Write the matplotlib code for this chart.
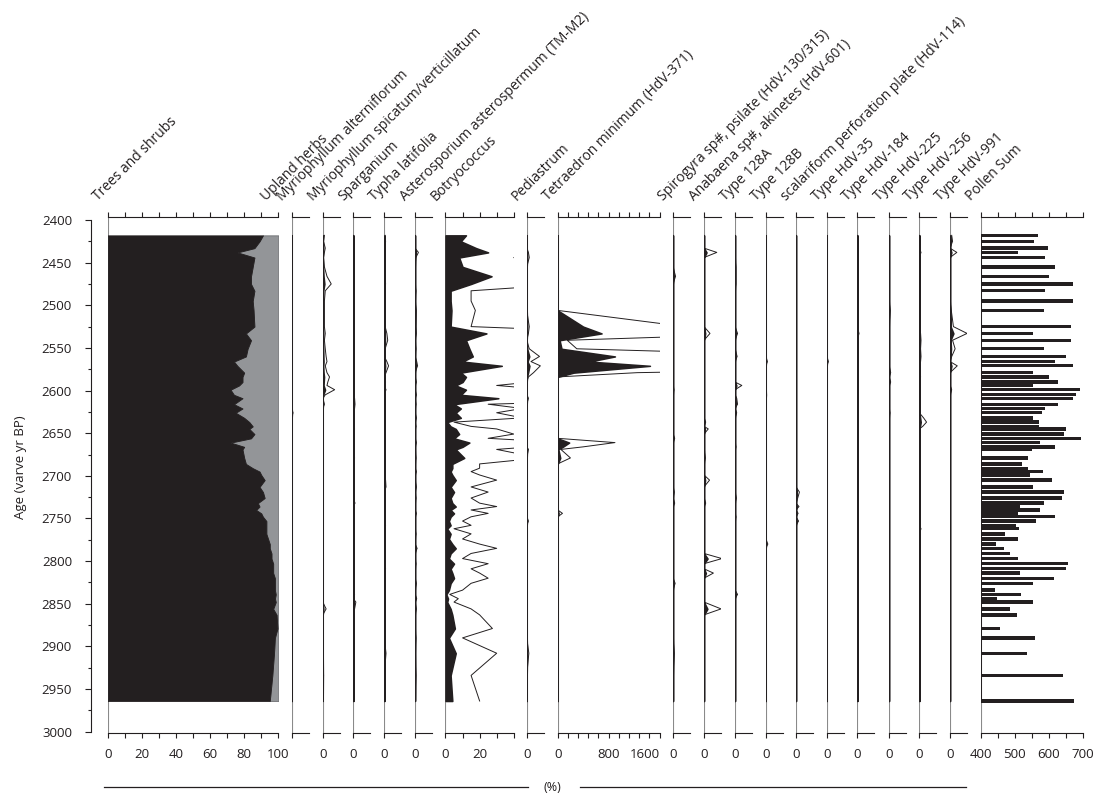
import numpy as np
import matplotlib
matplotlib.use("Agg")
import matplotlib.pyplot as plt
from matplotlib.lines import Line2D

plt.rcParams["font.family"] = ["Open Sans", "DejaVu Sans"]

# ── DATA ─────────────────────────────────────────────────────────────────────
# sample ages (varve yr BP)
ages = [2418, 2425, 2433, 2438, 2444, 2455, 2466, 2475, 2483, 2495,
        2506, 2525, 2533, 2541, 2551, 2560, 2566, 2571, 2579, 2584,
        2590, 2594, 2599, 2605, 2609, 2616, 2621, 2626, 2632, 2637,
        2642, 2645, 2651, 2656, 2661, 2666, 2669, 2679, 2686, 2691,
        2695, 2699, 2705, 2713, 2719, 2726, 2732, 2736, 2740, 2744,
        2748, 2753, 2758, 2762, 2768, 2774, 2780, 2785, 2791, 2797,
        2803, 2809, 2814, 2820, 2826, 2834, 2839, 2844, 2848, 2856,
        2863, 2879, 2890, 2908, 2934, 2964]

trees = [91, 89, 86, 76, 86, 85, 84, 84, 86, 85,
         85.5, 86, 81, 84, 82, 81, 74, 76, 80, 79,
         79, 77, 72, 74, 79, 74, 79, 75, 80, 83,
         85, 83, 86, 84, 72, 80, 79, 80, 81, 85,
         89, 90, 92, 89, 91, 92, 88, 89, 87, 90,
         91, 93, 93, 93, 93, 94, 95, 95, 96, 96,
         97, 97, 97, 98, 98, 98, 98.5, 98, 98.5, 97,
         99, 99.5, 98, 97.5, 96.5, 95]

botryococcus = [12, 9, 18, 25, 8, 10, 27, 15, 3, 3,
                3.5, 3, 24, 12, 14, 16, 10, 33, 9, 12,
                10, 6, 12, 9, 31, 5, 9, 6, 9, 1,
                3, 6, 8, 5, 14, 10, 6, 11, 4, 4,
                3, 4, 6, 3, 5, 3, 4, 6, 3, 5,
                3, 2, 3, 1, 3, 2, 4, 6, 3, 2,
                5, 3, 4, 5, 3, 2, 0.5, 1.5, 1, 3,
                4, 5.5, 2, 6, 3, 4]

pollen_sum = [568, 555, 598, 508, 590, 619, 600, 670, 590, 670,
              585, 666, 552, 665, 585, 650, 618, 672, 553, 600,
              627, 553, 692, 679, 670, 627, 590, 580, 553, 570,
              570, 652, 645, 695, 574, 618, 550, 539, 522, 538,
              582, 545, 610, 553, 645, 640, 587, 515, 574, 509,
              618, 563, 504, 511, 472, 508, 445, 467, 486, 510,
              656, 651, 515, 614, 552, 442, 519, 446, 552, 487,
              505, 457, 560, 536, 643, 675]

# sparse taxa: age -> % (zero at all other samples)
myrio_alt = {2626: 0.15}
myrio_spic = {2418: 0.2, 2425: 0.1, 2433: 0.3, 2438: 0.2, 2444: 0.1, 2455: 0.2,
              2466: 0.5, 2475: 1.0, 2483: 0.3, 2495: 0.2, 2506: 0.2, 2525: 0.2,
              2533: 0.3, 2541: 0.2, 2551: 0.3, 2560: 0.4, 2566: 0.5, 2571: 0.3,
              2579: 0.5, 2584: 0.8, 2590: 0.6, 2594: 0.5, 2599: 1.4, 2605: 0.3,
              2616: 0.2, 2856: 0.4, 2934: 0.1}
sparganium = {2609: 0.15, 2616: 0.2, 2621: 0.15, 2645: 0.15, 2679: 0.15,
              2732: 0.2, 2839: 0.15, 2848: 0.3, 2856: 0.15}
typha = {2418: 0.1, 2425: 0.15, 2433: 0.1, 2444: 0.1, 2466: 0.1, 2475: 0.15,
         2495: 0.1, 2525: 0.1, 2533: 0.3, 2541: 0.4, 2551: 0.1, 2566: 0.3,
         2571: 0.5, 2579: 0.2, 2590: 0.15, 2599: 0.2, 2616: 0.1, 2645: 0.1,
         2705: 0.15, 2713: 0.2, 2748: 0.1, 2758: 0.15, 2797: 0.1, 2809: 0.15,
         2820: 0.1, 2908: 0.2}
asterosporium = {2438: 0.4, 2444: 0.1, 2483: 0.1, 2506: 0.15, 2525: 0.1,
                 2533: 0.15, 2551: 0.1, 2566: 0.2, 2571: 0.3, 2590: 0.15,
                 2605: 0.15, 2616: 0.1, 2632: 0.15, 2642: 0.1, 2661: 0.15,
                 2679: 0.1, 2695: 0.15, 2713: 0.15, 2726: 0.1, 2744: 0.15,
                 2768: 0.1, 2785: 0.25, 2803: 0.1, 2826: 0.15, 2844: 0.2,
                 2856: 0.15, 2890: 0.1, 2934: 0.1}
pediastrum = {2438: 0.2, 2444: 0.3, 2525: 0.3, 2533: 0.2, 2551: 0.3, 2560: 1.5,
              2566: 0.5, 2571: 1.6, 2579: 0.8, 2584: 0.2, 2609: 0.2, 2669: 0.2,
              2753: 0.2, 2908: 0.25}
tetraedron = {2525: 400, 2533: 690, 2541: 30, 2551: 60, 2560: 900, 2566: 500,
              2571: 1450, 2579: 250, 2661: 180, 2666: 80, 2669: 10, 2679: 40,
              2744: 15}
spirogyra = {2466: 0.3, 2599: 0.1, 2656: 0.2, 2719: 0.15, 2732: 0.2,
             2826: 0.25, 2908: 0.15}
anabaena = {2438: 1.5, 2533: 0.7, 2637: 0.2, 2645: 0.5, 2679: 0.15, 2705: 0.65,
            2732: 0.2, 2797: 2.1, 2814: 1.1, 2856: 2.0}
type128a = {2455: 0.1, 2466: 0.1, 2475: 0.1, 2533: 0.3, 2560: 0.25, 2594: 0.8,
            2609: 0.2, 2616: 0.3, 2626: 0.2, 2666: 0.1, 2726: 0.15, 2748: 0.1,
            2839: 0.3}
type128b = {2566: 0.2, 2605: 0.1, 2780: 0.25}
scalariform = {2719: 0.4, 2726: 0.2, 2736: 0.35, 2744: 0.25, 2753: 0.3}
hdv35 = {2566: 0.2}
hdv184 = {2533: 0.2}
hdv225 = {2506: 0.15, 2579: 0.2, 2590: 0.2, 2626: 0.1}
hdv256 = {2438: 0.2, 2533: 0.15, 2541: 0.2, 2551: 0.15, 2560: 0.2, 2566: 0.15,
          2579: 0.1, 2584: 0.15, 2599: 0.1, 2632: 0.5, 2637: 0.85, 2642: 0.4,
          2762: 0.2}
hdv991 = {2418: 0.2, 2425: 0.3, 2438: 0.8, 2506: 0.15, 2525: 0.4, 2533: 2.0,
          2541: 0.3, 2551: 0.6, 2560: 0.2, 2571: 0.85, 2599: 0.2}

EXAG = 5  # exaggeration of the outline curves

# ── STYLE / LAYOUT ───────────────────────────────────────────────────────────
BLACK = "#231f20"
GRAY = "#939598"
ZERO = "#8a8a8a"

W, H = 1099, 793
TOP, BOT = 216.7, 733.3     # pixel rows of the panel top/bottom axes
Y0, Y1 = 220.0, 731.7       # pixel rows of 2400 and 3000
PX_YR = (Y1 - Y0) / 600.0
YLIM = (3000 + (BOT - Y1) / PX_YR, 2400 - (Y0 - TOP) / PX_YR)
PX_PCT = 1.706              # horizontal pixels per percent

ages_a = np.array(ages, dtype=float)

fig = plt.figure(figsize=(W / 100, H / 100), dpi=100, facecolor="white")


def panel(x0, width_px, xlim, ticks, labels):
    ax = fig.add_axes([x0 / W, 1 - BOT / H, width_px / W, (BOT - TOP) / H])
    ax.set_ylim(*YLIM)
    ax.set_xlim(*xlim)
    ax.patch.set_alpha(0)
    ax.spines[["left", "right"]].set_visible(False)
    for s in ("top", "bottom"):
        ax.spines[s].set_linewidth(0.8)
        ax.spines[s].set_color(BLACK)
    ax.set_yticks([])
    ax.set_xticks(ticks)
    ax.set_xticklabels(labels)
    ax.tick_params(axis="x", top=True, bottom=True, direction="out",
                   length=3.4, width=0.8, color=BLACK, labelsize=9.5,
                   labelcolor=BLACK, pad=7)
    ax.axvline(xlim[0], color=ZERO, lw=0.8, zorder=1)
    return ax


def curve(ax, vals, base=0.0, exag=True):
    vals = np.asarray(vals, dtype=float)
    ax.fill_betweenx(ages_a, base, vals, facecolor=BLACK, edgecolor=BLACK,
                     lw=1.1, zorder=3)
    if exag:
        ax.plot(vals * EXAG, ages_a, color=BLACK, lw=0.7, zorder=2)


def dense(d):
    return [d.get(a, 0.0) for a in ages]


headers = []

# ── Trees and shrubs / upland herbs ──────────────────────────────────────────
ax = panel(107.7, 100 * PX_PCT, (0, 100), list(range(0, 101, 10)),
           [str(v) if v % 20 == 0 else "" for v in range(0, 101, 10)])
ax.fill_betweenx(ages_a, trees, 100, facecolor=GRAY, edgecolor="#6d6e71",
                 lw=0.6, zorder=2)
ax.fill_betweenx(ages_a, 0, trees, facecolor=BLACK, edgecolor=BLACK,
                 lw=0.6, zorder=3)
headers += [("Trees and shrubs", 107.7), ("Upland herbs", 276.5)]

# ── small percentage panels ──────────────────────────────────────────────────
small_left = [("Myriophyllum alterniflorum", 291.7, myrio_alt, ""),
              ("Myriophyllum spicatum/verticillatum", 322.7, myrio_spic, "0"),
              ("Sparganium", 353.3, sparganium, "0"),
              ("Typha latifolia", 384.3, typha, "0"),
              ("Asterosporium asterospermum (TM-M2)", 415.0, asterosporium, "0")]
for name, x0, d, lab in small_left:
    ax = panel(x0, 10 * PX_PCT, (0, 10), [0], [lab])
    curve(ax, dense(d))
    headers.append((name, x0))

# Botryococcus
ax = panel(445.5, 40 * PX_PCT, (0, 40), [0, 10, 20, 30, 40],
           ["0", "", "20", "", ""])
curve(ax, botryococcus)
headers.append(("Botryococcus", 445.5))

# Pediastrum
ax = panel(526.7, 10 * PX_PCT, (0, 10), [0], ["0"])
curve(ax, dense(pediastrum))
headers.append(("Pediastrum", 526.7))

# Tetraedron
ax = panel(557.7, 101.8, (0, 1600), list(range(0, 1601, 160)),
           ["0", "", "", "", "", "800", "", "", "", "", "1600"])
ax.get_xticklabels()[-1].set_horizontalalignment("right")
curve(ax, dense(tetraedron))
headers.append(("Tetraedron minimum (HdV-371)", 557.7))

small_right = [("Spirogyra sp#, psilate (HdV-130/315)", 673.0, spirogyra),
               ("Anabaena sp#, akinetes (HdV-601)", 704.0, anabaena),
               ("Type 128A", 735.0, type128a),
               ("Type 128B", 765.7, type128b),
               ("scalariform perforation plate (HdV-114)", 796.0, scalariform),
               ("Type HdV-35", 826.7, hdv35),
               ("Type HdV-184", 857.3, hdv184),
               ("Type HdV-225", 889.0, hdv225),
               ("Type HdV-256", 919.3, hdv256),
               ("Type HdV-991", 950.0, hdv991)]
for name, x0, d in small_right:
    ax = panel(x0, 10 * PX_PCT, (0, 10), [0], ["0"])
    curve(ax, dense(d))
    headers.append((name, x0))

# Pollen sum
ax = panel(981.0, 101.7, (400, 700), list(range(400, 701, 50)),
           ["400", "", "500", "", "600", "", "700"])
ax.barh(ages_a, np.array(pollen_sum) - 400, left=400, height=3.9,
        color=BLACK, edgecolor="none", zorder=3)
ax.plot([400, 400], [ages[0], ages[-1]], color=BLACK, lw=1.4, zorder=4)
headers.append(("Pollen Sum", 981.0))

# ── header labels ────────────────────────────────────────────────────────────
for name, x0 in headers:
    fig.text((x0 - 10) / W, 1 - 201 / H, name, rotation=45,
             rotation_mode="anchor", ha="left", va="baseline",
             fontsize=10, color=BLACK)

# ── age axis ─────────────────────────────────────────────────────────────────
yax = fig.add_axes([90.7 / W, 1 - Y1 / H, 0.0005, (Y1 - Y0) / H])
yax.set_ylim(3000, 2400)
yax.patch.set_alpha(0)
yax.spines[["top", "right", "bottom"]].set_visible(False)
yax.spines["left"].set_linewidth(0.8)
yax.spines["left"].set_color(BLACK)
yax.set_xticks([])
yax.set_yticks(range(2400, 3001, 50))
yax.set_yticks(range(2425, 3000, 50), minor=True)
yax.tick_params(axis="y", which="major", length=4.5, width=0.8, color=BLACK,
                labelsize=9.5, labelcolor=BLACK, pad=9)
yax.tick_params(axis="y", which="minor", length=2.5, width=0.8, color=BLACK)
fig.text(20.7 / W, 1 - 466.7 / H, "Age (varve yr BP)", rotation=90,
         ha="center", va="center", fontsize=9.5, color=BLACK)

# ── "(%)" bracket under the percentage panels ───────────────────────────────
yb = 1 - 787.3 / H
fig.add_artist(Line2D([104 / W, 528 / W], [yb, yb], color=BLACK, lw=0.9))
fig.add_artist(Line2D([580 / W, 966 / W], [yb, yb], color=BLACK, lw=0.9))
fig.text(552 / W, yb, "(%)", ha="center", va="center", fontsize=9, color=BLACK)

plt.savefig("out.png", dpi=100, facecolor="white")
